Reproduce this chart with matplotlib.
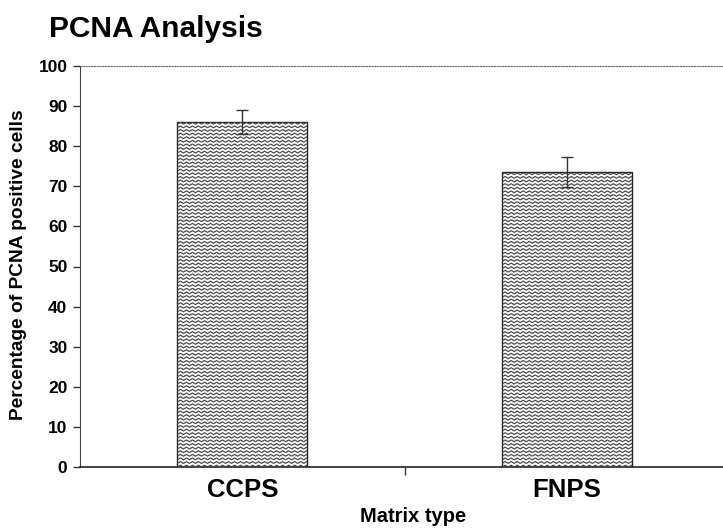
import matplotlib
matplotlib.use("Agg")
import matplotlib.pyplot as plt
import numpy as np
from matplotlib.collections import LineCollection

plt.rcParams['font.family'] = ['Liberation Sans', 'DejaVu Sans']

# PCNA positive cells per matrix type
categories = ['CCPS', 'FNPS']
values = [86.0, 73.6]
errors = [3.0, 3.7]

fig = plt.figure(figsize=(7.23, 5.28), dpi=100)
ax = fig.add_axes([80 / 723, 1 - 467 / 528, 1 - 80 / 723, (467 - 66) / 528])

x = np.arange(len(categories))
bars = ax.bar(x, values, width=0.40, color='white', edgecolor='#222222', linewidth=1.0, zorder=2)
ax.errorbar(x, values, yerr=errors, fmt='none', ecolor='#333333', elinewidth=1.0,
            capsize=4, capthick=1.0, zorder=4)

# zigzag fill for each bar, clipped to the bar outline
for b in bars:
    x0, w, h = b.get_x(), b.get_width(), b.get_height()
    px = 6.0 / 324  # one zigzag period in data units
    xs = np.arange(x0 - px, x0 + w + px, px / 2)
    segs = []
    for yy in np.arange(0, h + 1.0, 0.9):
        ys = yy + np.where(np.arange(len(xs)) % 2 == 0, 0.0, 0.45)
        segs.append(np.column_stack([xs, ys]))
    lc = LineCollection(segs, colors='#444444', linewidths=0.85, zorder=3)
    ax.add_collection(lc)
    lc.set_clip_path(b)

ax.set_ylim(0, 100)
ax.set_xlim(-0.5, 1.48)
ax.set_yticks(np.arange(0, 101, 10))
ax.set_xticks(x)
ax.set_xticklabels(categories, fontsize=18.5, fontweight='bold')
ax.set_xticks([0.5], minor=True)
ax.tick_params(axis='x', which='major', length=0, pad=8)
ax.tick_params(axis='x', which='minor', length=6, width=1, color='#333333')
ax.tick_params(axis='y', length=5, width=1, color='#333333', labelsize=12.5, pad=4)
for lbl in ax.get_yticklabels():
    lbl.set_fontweight('bold')

ax.spines['right'].set_visible(False)
ax.spines['top'].set_linestyle((0, (1, 1.5)))
ax.spines['top'].set_color('#666666')
ax.spines['top'].set_linewidth(0.8)
ax.spines['left'].set_color('#444444')
ax.spines['bottom'].set_color('#222222')
ax.spines['bottom'].set_linewidth(1.2)

ax.set_ylabel('Percentage of PCNA positive cells', fontsize=13.8, fontweight='bold')
ax.yaxis.set_label_coords((27 - 80) / 643, 0.505)
ax.set_xlabel('Matrix type', fontsize=14.5, fontweight='bold')
ax.xaxis.set_label_coords((413 - 80) / 643, -(507 - 467) / 401)
fig.text(49 / 723, 1 - 37 / 528, 'PCNA Analysis', fontsize=21.5, fontweight='bold', va='baseline', ha='left')

fig.savefig('out.png', dpi=100)
